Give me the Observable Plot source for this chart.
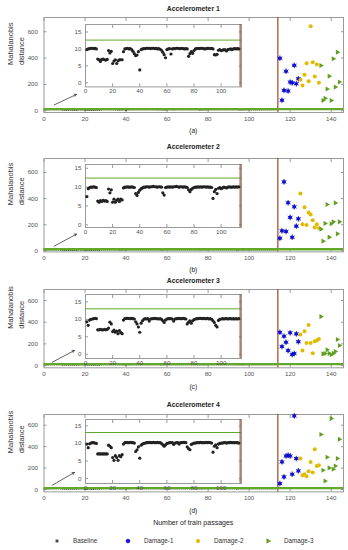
<!DOCTYPE html>
<html><head><meta charset="utf-8">
<script src="https://cdn.jsdelivr.net/npm/d3@7"></script>
<script src="https://cdn.jsdelivr.net/npm/@observablehq/plot@0.6"></script>
<style>
body{margin:0;background:#fff;overflow:hidden;font-family:"Liberation Sans",Arial,sans-serif;}
#chart{position:relative;width:348px;height:550px;}
.ctr{position:absolute;left:43.5px;width:299.5px;text-align:center;transform:translateY(-50%);white-space:nowrap;color:#222;}
</style>
</head><body><div id="chart"></div>
<script>
// ---------- data ----------
const titles = ["Accelerometer 1", "Accelerometer 2", "Accelerometer 3", "Accelerometer 4"];
const subLabels = ["(a)", "(b)", "(c)", "(d)"];
const xTitle = "Number of  train passages";
const legendLabels = ["Baseline", "Damage-1", "Damage-2", "Damage-3"];
const ticksMainX = [0, 20, 40, 60, 80, 100, 120, 140];
const ticksMainY = [0, 200, 400, 600];
const ticksInsetX = [0, 20, 40, 60, 80, 100];
const ticksInsetY = [0, 5, 10, 15];
const damageStart = 114;            // vertical line: last baseline passage
const thresholds = [12.6, 12.4, 13.0, 13.1];

const baseline1 = [9.8,10.0,10.1,10.2,10.2,10.1,10.2,10.0, 7.0,6.8,6.3,6.9,7.0,6.8,6.7,6.9, 9.5,8.8,9.3,
  5.7,6.4,6.8,5.7,6.5,6.8,6.8,6.8, 9.2,10.0,10.1,10.2,10.0,10.1,9.8,9.3, 8.6,8.0,8.2,9.2, 3.8,
  9.8,10.0,10.1,10.1,10.2,10.2,10.2,10.1,10.2,10.2,10.1,10.2,10.0,10.1,9.9,9.6, 9.0,8.3,7.4,9.8,
  10.0,10.1, 8.5, 10.0,10.1,10.1,10.2,10.2,10.1,10.1,10.2,10.1,10.0,10.1,10.0,
  7.8,8.6,9.2,8.7,9.5, 10.0,10.1,10.2,10.1,10.2,10.2,10.1,10.0,10.1,10.2,10.2,10.1,10.2,10.0,
  8.3,8.2,8.4, 9.6,9.8,9.5,9.6,9.8,9.7,9.4,9.8,9.9,10.0,9.8,10.0,10.1,10.0,10.1,10.0];
const baseline2 = [7.5, 9.6,9.9,10.0,10.0,10.1,10.0,9.9, 6.3,6.0,6.4,6.2,6.5,6.3,6.4,6.2, 9.5,8.5,9.3,
  6.0,6.8,6.0,6.5,6.8,6.2,6.8,6.6, 9.8,10.0,10.0,10.1,10.0,10.0,10.1,10.0,9.9, 8.3,7.8,8.6,9.2,
  9.6,9.8,10.0,10.0,10.1,10.1,10.0,10.1,10.1,10.2,10.1,10.1,10.0,10.1,10.1,10.0, 8.5,7.9,
  9.9,10.0,10.1,10.0,10.1,10.0,10.1,10.1,10.2,10.1,10.0,10.1,10.1,10.0,10.1,10.0,9.9,
  9.3,8.8,9.4,9.7, 9.9,10.0,10.0,10.1,10.0,10.1,10.0,10.1,10.1,10.0,10.1,10.0,10.0,9.9,
  7.0,8.8,9.4,8.3, 9.7,9.9,9.6,9.8,10.0,9.9,9.8,10.0,10.1,10.0,10.0,10.1,10.0,10.1,10.0,10.1];
const baseline3 = [9.3,8.3, 9.8,10.0,10.1,10.2,10.3,10.2, 7.0,7.0,7.1,7.0,7.0,7.1,7.0,7.1, 7.5,9.2,8.7,
  6.5,6.9,6.3,6.6,5.9,6.8,6.2,5.9, 9.8,10.2,10.3,10.3,10.3,10.2,10.3,10.2,10.1, 9.3,8.7,7.8,6.3,8.9,9.6,
  10.0,10.2,10.1,10.2,9.5,10.1,10.2,10.2,10.3,10.2,10.2,10.1,10.2,10.0, 9.6,9.1,
  9.8,10.1,10.2,10.2,10.2,10.1,9.5,10.1,10.2,10.2,10.3,10.2,10.2,10.3,10.2,10.1,
  8.7,9.2,9.6,8.9,9.6,9.9, 10.1,10.2,10.2,10.3,10.3,10.2,10.3,10.2,10.2,10.3,10.1,10.2,10.0,9.6,
  9.1,8.3,7.8, 9.7,10.0,10.1,10.2,10.1,10.2,10.2,10.1,10.2,10.2,10.1,10.2,10.1,10.2,10.1,10.2];
const baseline4 = [9.8,8.8, 9.9,10.1,10.2,10.2,10.1,10.0, 7.0,7.0,7.0,7.0,7.0,7.0,7.0,7.0, 9.5,9.2,8.8,
  6.0,5.2,6.5,6.0,5.2,6.5,6.2,6.8, 9.8,10.2,10.3,10.2,10.2,10.3,10.2,10.2,10.1, 7.7,8.2,9.0,5.8,
  9.5,9.8,10.0,10.1,10.2,10.2,10.3,10.2,10.2,10.3,10.2,10.2,10.3,10.2,10.2,10.0, 9.6,9.2,9.6,
  10.0,10.1,10.2,10.2,10.2,9.7,10.1,10.2,10.2,9.8,10.2,10.2,10.3,10.3,10.2, 9.0,8.5,8.2,
  9.7,9.9,10.1,10.1,10.2,10.2,10.2,10.3,10.2,10.2,10.2,10.3,10.2,10.3,10.2,10.1,
  7.5,9.2,9.6,8.8, 9.8,10.0,10.1,10.1,10.2,10.2,10.1,10.2,10.2,10.3,10.2,10.2,10.2,10.2,10.2,10.1];

const damage1X = [115,116,117,118,119,120,121,122,123,124];
const damage2X = [125,126,127,128,129,130,131,132,133,134];
const damage3X = [135,136,137,138,139,140,141,142,143,144];

const damage1_acc1 = [399,80,155,300,150,218,212,345,205,243];
const damage2_acc1 = [235,192,273,361,225,642,369,260,351,213];
const damage3_acc1 = [344,78,95,165,263,78,395,180,445,218];
const damage1_acc2 = [97,153,528,148,368,256,104,337,189,245];
const damage2_acc2 = [439,204,334,197,294,278,235,179,204,175];
const damage3_acc2 = [166,74,210,355,105,207,222,367,130,222];
const damage1_acc3 = [307,175,271,215,138,302,101,111,292,220];
const damage2_acc3 = [286,138,317,209,375,209,114,225,230,246];
const damage3_acc3 = [452,108,110,145,112,100,112,130,240,185];
const damage1_acc4 = [56,258,118,313,320,313,143,687,289,174];
const damage2_acc4 = [289,133,143,124,171,258,158,376,220,227];
const damage3_acc4 = [513,180,80,301,202,662,189,220,289,469];

// zoom-in annotation arrows (data units of the main plot)
const arrowX1 = [5, 5, 4, 4];
const arrowY1 = [45, 36, 30, 40];
const arrowX2 = [15.8, 15.8, 14.8, 14.8];
const arrowY2 = [124, 128, 139, 159];

// ---------- layout / style ----------
const C = {blue:"#1010d0", gold:"#e2ba00", green:"#5f9f22", thr:"#62a82a", brown:"#a0461e", frame:"#9a9a9a", tick:"#555"};
const baselines = [baseline1, baseline2, baseline3, baseline4];
const dmg1 = [damage1_acc1, damage1_acc2, damage1_acc3, damage1_acc4];
const dmg2 = [damage2_acc1, damage2_acc2, damage2_acc3, damage2_acc4];
const dmg3 = [damage3_acc1, damage3_acc2, damage3_acc3, damage3_acc4];
const layout = [
  {titleY:9,   frameTop:17,    frameH:95,   subY:131,   yMain:[-13,708], insetTop:24.3,  insetH:62.4, yInset:[-1.2,17.2]},
  {titleY:147, frameTop:158.3, frameH:93.4, subY:270,   yMain:[-8,707],  insetTop:164.3, insetH:63,   yInset:[-0.7,16]},
  {titleY:281, frameTop:289,   frameH:78.3, subY:387,   yMain:[-21,702], insetTop:294.3, insetH:64,   yInset:[-1.2,17.1]},
  {titleY:405, frameTop:414.3, frameH:77.4, subY:510.7, yMain:[-22,700], insetTop:419.3, insetH:64,   yInset:[-1.4,16.8]}
];
const FONT = '"Liberation Sans", Arial, sans-serif';
const chart = document.getElementById("chart");

function inwardTicks(xt, yt) {
  const o = {tickSize:-3, tickFormat:() => "", label:null, stroke:C.frame};
  return [
    Plot.axisX(xt, {...o, anchor:"bottom"}),
    Plot.axisX(xt, {...o, anchor:"top"}),
    Plot.axisY(yt, {...o, anchor:"left"}),
    Plot.axisY(yt, {...o, anchor:"right"})
  ];
}

function place(el, left, top) {
  el.style.position = "absolute";
  el.style.left = left + "px";
  el.style.top = top + "px";
  chart.appendChild(el);
}

function addText(txt, y, size, weight) {
  const d = document.createElement("div");
  d.className = "ctr";
  d.style.top = y + "px";
  d.style.fontSize = size + "px";
  d.style.fontWeight = weight || "normal";
  d.style.lineHeight = size + "px";
  d.textContent = txt;
  chart.appendChild(d);
}

layout.forEach((L, i) => {
  const base = baselines[i].map((v, k) => ({x: k + 1, y: v}));
  const d1 = damage1X.map((x, k) => ({x, y: dmg1[i][k]}));
  const d2 = damage2X.map((x, k) => ({x, y: dmg2[i][k]}));
  const d3 = damage3X.map((x, k) => ({x, y: dmg3[i][k]}));
  const arrow = [{x1: arrowX1[i], y1: arrowY1[i], x2: arrowX2[i], y2: arrowY2[i]}];

  addText(titles[i], L.titleY, 6.8, "bold");
  addText(subLabels[i], L.subY, 6.6);

  const main = Plot.plot({
    width: 348, height: L.frameH + 3 + 12,
    marginTop: 3, marginBottom: 12, marginLeft: 43.5, marginRight: 5,
    x: {domain: [0, 146]},
    y: {domain: L.yMain},
    style: {fontFamily: FONT, fontSize: "6px", color: C.tick, background: "transparent", overflow: "visible"},
    marks: [
      Plot.frame({stroke: C.frame}),
      ...inwardTicks(ticksMainX, ticksMainY),
      Plot.axisX(ticksMainX, {tickSize: 0, tickPadding: 4, label: null, fontSize: 6.2}),
      Plot.axisY(ticksMainY, {tickSize: 0, tickPadding: 6, label: null, fontSize: 6.2}),
      Plot.text(["Mahalanobis\ndistance"], {frameAnchor: "left", dx: -29, rotate: -90, fontSize: 7.5, lineHeight: 1.4, fill: "#333"}),
      Plot.ruleX([damageStart], {stroke: C.brown, strokeWidth: 1.2}),
      Plot.dot(base, {x: "x", y: "y", r: 0.9, fill: "#222"}),
      Plot.ruleY([thresholds[i]], {stroke: C.thr, strokeWidth: 2.4}),
      Plot.dot(d1, {x: "x", y: "y", r: 1.8, fill: C.blue}),
      Plot.dot(d1, {x: "x", y: "y", symbol: "asterisk", r: 2.6, stroke: C.blue, strokeWidth: 0.9}),
      Plot.dot(d2, {x: "x", y: "y", r: 2.0, fill: C.gold}),
      Plot.dot(d3, {x: "x", y: "y", symbol: "triangle", rotate: 90, r: 1.9, fill: C.green}),
      Plot.arrow(arrow, {x1: "x1", y1: "y1", x2: "x2", y2: "y2", stroke: "#222", strokeWidth: 0.7, headLength: 5})
    ]
  });
  place(main, 0, L.frameTop - 3);

  const inset = Plot.plot({
    width: 18 + 156 + 2, height: 1 + L.insetH + 10,
    marginLeft: 18, marginRight: 2, marginTop: 1, marginBottom: 10,
    x: {domain: [0, 115]},
    y: {domain: L.yInset},
    style: {fontFamily: FONT, fontSize: "6px", color: C.tick, background: "transparent", overflow: "visible"},
    marks: [
      Plot.frame({fill: "white", stroke: C.frame}),
      ...inwardTicks(ticksInsetX, ticksInsetY),
      Plot.axisX(ticksInsetX, {tickSize: 0, tickPadding: 2, label: null, fontSize: 6.2}),
      Plot.axisY(ticksInsetY, {tickSize: 0, tickPadding: 4, label: null, fontSize: 6.2}),
      Plot.ruleY([thresholds[i]], {stroke: C.thr, strokeWidth: 1}),
      Plot.ruleX([damageStart], {stroke: C.brown, strokeWidth: 1.1}),
      Plot.dot(base, {x: "x", y: "y", r: 1.6, fill: "#222"})
    ]
  });
  place(inset, 85.3 - 18, L.insetTop - 1);
});

addText(xTitle, 521.7, 7);

// legend
const lg = d3.create("svg").attr("width", 348).attr("height", 16)
  .style("font-family", FONT).style("font-size", "6.3px");
const symX = [57, 128, 198, 268];
const symDefs = [
  {type: d3.symbolAsterisk, size: 10, fill: "none", stroke: "#222", rot: 0},
  {type: d3.symbolCircle, size: 11, fill: C.blue, stroke: C.blue, rot: 0},
  {type: d3.symbolCircle, size: 13, fill: C.gold, stroke: "none", rot: 0},
  {type: d3.symbolTriangle, size: 12, fill: C.green, stroke: "none", rot: 90}
];
legendLabels.forEach((lab, k) => {
  const s = symDefs[k];
  lg.append("path").attr("d", d3.symbol(s.type, s.size)())
    .attr("transform", `translate(${symX[k]},8) rotate(${s.rot})`)
    .attr("fill", s.fill).attr("stroke", s.stroke).attr("stroke-width", 0.8);
  lg.append("text").attr("x", symX[k] + 16).attr("y", 8).attr("dy", "0.35em")
    .attr("fill", "#333").text(lab);
});
place(lg.node(), 0, 533);
</script></body></html>
